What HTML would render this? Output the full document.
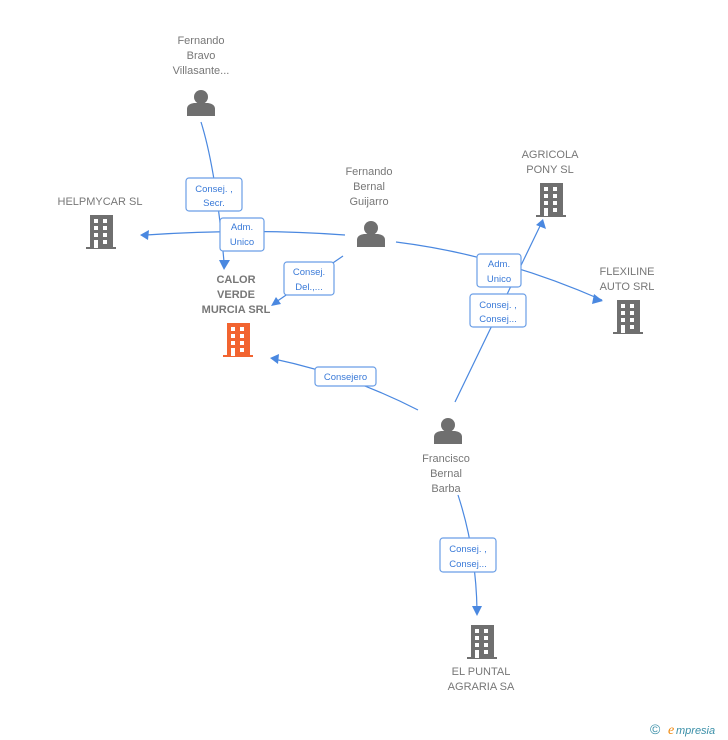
<!DOCTYPE html>
<html><head><meta charset="utf-8"><style>
html,body{margin:0;padding:0;background:#fff;}
svg{display:block;font-family:"Liberation Sans",Arial,sans-serif;}
.t{font-size:11px;fill:#777;text-anchor:middle;}
.b{font-size:11px;fill:#777;text-anchor:middle;font-weight:bold;}
.l{font-size:9.5px;fill:#3a7ad8;text-anchor:middle;}
.e{fill:none;stroke:#4a88e0;stroke-width:1.2;}
.bx{fill:#fff;stroke:#6a9ee6;stroke-width:1.2;}
.ar{fill:#4a88e0;}
</style></head><body>
<svg width="728" height="740" viewBox="0 0 728 740">
<defs>
<g id="bld">
<rect x="4" y="0" width="23" height="33"/>
<rect x="0" y="32" width="30" height="2"/>
<g fill="#fff">
<rect x="8" y="4" width="4" height="4"/><rect x="17" y="4" width="4" height="4"/>
<rect x="8" y="11" width="4" height="4"/><rect x="17" y="11" width="4" height="4"/>
<rect x="8" y="18" width="4" height="4"/><rect x="17" y="18" width="4" height="4"/>
<rect x="8" y="25" width="4" height="8"/><rect x="17" y="25" width="4" height="4"/>
</g>
</g>
<g id="per">
<circle cx="0" cy="-6" r="7"/>
<path d="M-14,13 L-14,6 Q-14,1 -7,0 L7,0 Q14,1 14,6 L14,13 Z"/>
</g>
</defs>

<!-- edges -->
<path class="e" d="M201,122 Q216,170 224,262"/>
<path class="ar" d="M219,260 L224,270 L230,260 Z"/>
<path class="e" d="M345,235 Q250,228 146,235"/>
<path class="ar" d="M140,235 L149,230 L148,240 Z"/>
<path class="e" d="M343,256 L276,302"/>
<path class="ar" d="M271,306 L276,297 L281,304 Z"/>
<path class="e" d="M396,242 Q500,255 602,300"/>
<path class="ar" d="M603,301 L594,294 L592,304 Z"/>
<path class="e" d="M455,402 L541,224"/>
<path class="ar" d="M543,219 L536,225 L546,229 Z"/>
<path class="e" d="M418,410 Q350,375 274,359"/>
<path class="ar" d="M270,358 L279,354 L278,364 Z"/>
<path class="e" d="M458,495 Q476,550 477,610"/>
<path class="ar" d="M472,606 L477,616 L482,606 Z"/>

<!-- labels -->
<rect class="bx" x="186" y="178" width="56" height="33" rx="3"/>
<text class="l" x="214" y="192">Consej. ,</text><text class="l" x="214" y="206">Secr.</text>
<rect class="bx" x="220" y="218" width="44" height="33" rx="3"/>
<text class="l" x="242" y="230">Adm.</text><text class="l" x="242" y="245">Unico</text>
<rect class="bx" x="284" y="262" width="50" height="33" rx="3"/>
<text class="l" x="309" y="275">Consej.</text><text class="l" x="309" y="290">Del.,...</text>
<rect class="bx" x="477" y="254" width="44" height="33" rx="3"/>
<text class="l" x="499" y="267">Adm.</text><text class="l" x="499" y="282">Unico</text>
<rect class="bx" x="470" y="294" width="56" height="33" rx="3"/>
<text class="l" x="498" y="308">Consej. ,</text><text class="l" x="498" y="322">Consej...</text>
<rect class="bx" x="315" y="367" width="61" height="19" rx="3"/>
<text class="l" x="345.5" y="380">Consejero</text>
<rect class="bx" x="440" y="538" width="56" height="34" rx="3"/>
<text class="l" x="468" y="552">Consej. ,</text><text class="l" x="468" y="567">Consej...</text>

<!-- nodes -->
<text class="t" x="201" y="44">Fernando</text><text class="t" x="201" y="59">Bravo</text><text class="t" x="201" y="74">Villasante...</text>
<use href="#per" x="201" y="103" fill="#6f6f6f"/>

<text class="t" x="100" y="205">HELPMYCAR  SL</text>
<use href="#bld" x="86" y="215" fill="#6f6f6f"/>

<text class="t" x="369" y="175">Fernando</text><text class="t" x="369" y="190">Bernal</text><text class="t" x="369" y="205">Guijarro</text>
<use href="#per" x="371" y="234" fill="#6f6f6f"/>

<text class="t" x="550" y="158">AGRICOLA</text><text class="t" x="550" y="173">PONY SL</text>
<use href="#bld" x="536" y="183" fill="#6f6f6f"/>

<text class="t" x="627" y="275">FLEXILINE</text><text class="t" x="627" y="290">AUTO SRL</text>
<use href="#bld" x="613" y="300" fill="#6f6f6f"/>

<text class="b" x="236" y="283">CALOR</text><text class="b" x="236" y="298">VERDE</text><text class="b" x="236" y="313">MURCIA SRL</text>
<use href="#bld" x="223" y="323" fill="#f26430"/>

<use href="#per" x="448" y="431" fill="#6f6f6f"/>
<text class="t" x="446" y="462">Francisco</text><text class="t" x="446" y="477">Bernal</text><text class="t" x="446" y="492">Barba</text>

<use href="#bld" x="467" y="625" fill="#6f6f6f"/>
<text class="t" x="481" y="675">EL PUNTAL</text><text class="t" x="481" y="690">AGRARIA SA</text>

<text x="650" y="734" style="font-size:14px;fill:#3a8fa8">©</text>
<text x="668" y="734" style="font-size:14px;fill:#f08a10;font-style:italic;font-family:'Liberation Serif',serif">e</text>
<text x="676" y="734" style="font-size:11px;fill:#3a8fa8;font-style:italic">mpresia</text>
</svg>
</body></html>
